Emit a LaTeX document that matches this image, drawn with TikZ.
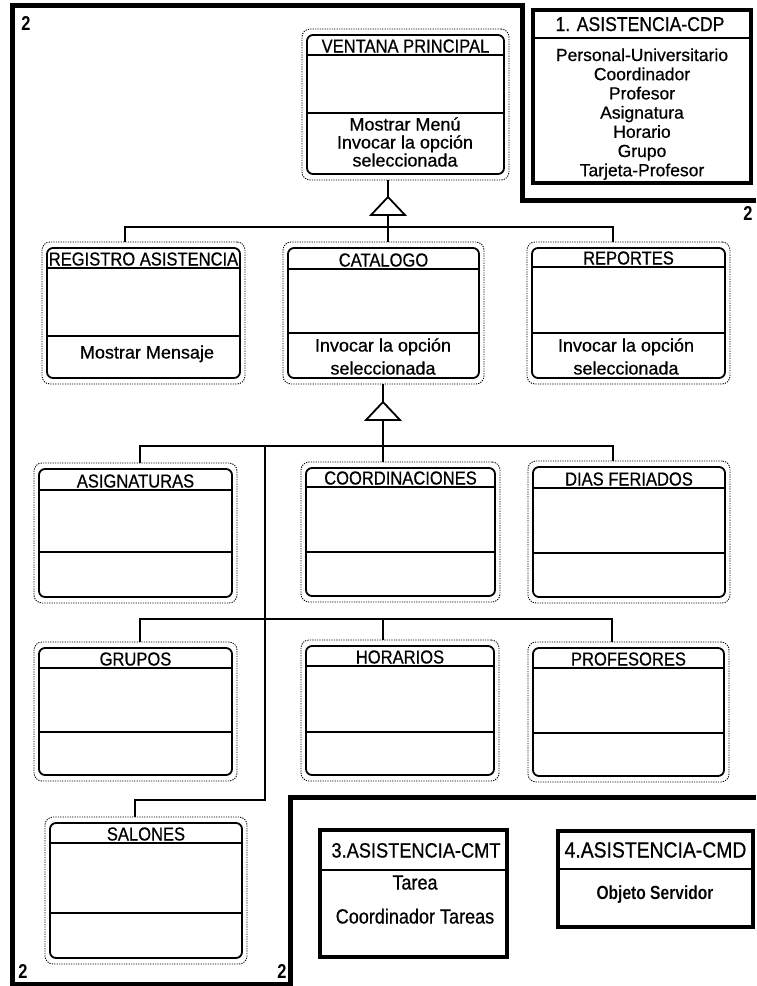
\documentclass[tikz,border=0pt]{standalone}
\usepackage{fontspec}
\setmainfont{Liberation Sans}[FakeBold=0.6]
\newfontfamily\narrowsans[FakeStretch=0.88, FakeBold=0.6]{Liberation Sans}
\newfontfamily\narrowbold[FakeStretch=0.82]{Liberation Sans Bold}
\usetikzlibrary{fit}

% One class: dotted outer outline, solid rounded box with three compartments, title
% #1 name, #2 left, #3 top, #4 right, #5 bottom, #6 title rule, #7 operations rule, #8 title
\newcommand\umlclass[8]{%
  \node[outerbox, fit={(#2-5,#3-6) (#4+5,#5+6)}] (#1) {};
  \draw[innerbox] (#2,#3) rectangle (#4,#5);
  \draw[sepline] (#2,#6) -- (#4,#6) (#2,#7) -- (#4,#7);
  \node[hdr, anchor=base] (#1-title) at ({(#2+#4)/2},#6-2.5) {#8};
}

\begin{document}
\begin{tikzpicture}[x=1pt,y=-1pt,
  frame/.style={line width=5pt, line join=miter},
  outerbox/.style={draw, line width=0.9pt, dash pattern=on 1.2pt off 1.2pt,
                   rounded corners=8pt, inner sep=0pt, outer sep=0pt},
  innerbox/.style={draw, line width=1.8pt, rounded corners=6pt},
  sepline/.style={line width=1.4pt},
  hdr/.style={font=\narrowsans\fontsize{18.8}{18.8}\selectfont, inner sep=0pt},
  body/.style={font=\fontsize{18}{18}\selectfont, inner sep=0pt, anchor=base},
  conn/.style={line width=1.5pt},
  tri/.style={line width=1.8pt, fill=white, line join=miter},
  pkgbox/.style={draw, line width=4.5pt, inner sep=0pt, outer sep=0pt},
  pkgsep/.style={line width=1.5pt},
  pkghdr/.style={font=\narrowsans\fontsize{20}{20}\selectfont, inner sep=0pt, anchor=base},
  pkgtxt/.style={font=\fontsize{17.5}{17.5}\selectfont, inner sep=0pt, anchor=base},
  pkgtxtn/.style={font=\narrowsans\fontsize{20.5}{20.5}\selectfont, inner sep=0pt, anchor=base},
  num/.style={font=\narrowbold\fontsize{20}{20}\selectfont, inner sep=0pt, anchor=base}
]
\useasboundingbox[fill=white] (0,0) rectangle (756,986);

% subject 2 boundary
\draw[frame] (756,200) -- (522,200) -- (522,5) -- (12,5) -- (12,984)
  -- (290,984) -- (290,797) -- (756,797);
\node[num] (n2a) at (26,30) {2};
\node[num] (n2b) at (748,220) {2};
\node[num] (n2c) at (23,978) {2};
\node[num] (n2d) at (282,978) {2};

% subject 1
\node[pkgbox, fit={(533,10) (751,183)}] (cdp) {};
\draw[pkgsep] (533,38) -- (751,38);
\node[pkghdr] (cdp-title) at (640,31) {1. ASISTENCIA-CDP};
\foreach \t [count=\i from 0] in {Personal-Universitario, Coordinador, Profesor,
    Asignatura, Horario, Grupo, Tarjeta-Profesor}
  \node[pkgtxt] (cdp-\i) at (642,{61+19.2*\i}) {\t};

% subject 3
\node[pkgbox, fit={(320,830) (507,957)}] (cmt) {};
\draw[pkgsep] (320,870) -- (507,870);
\node[pkghdr, font=\narrowsans\fontsize{20.7}{20.7}\selectfont] (cmt-title) at (416,857.5) {3.ASISTENCIA-CMT};
\node[pkgtxtn] (cmt-0) at (415,889.5) {Tarea};
\node[pkgtxtn] (cmt-1) at (415,923.5) {Coordinador Tareas};

% subject 4
\node[pkgbox, fit={(558,831) (753,927)}] (cmd) {};
\draw[pkgsep] (558,869) -- (753,869);
\node[pkghdr, font=\narrowsans\fontsize{22}{22}\selectfont] (cmd-title) at (655.5,857.5) {4.ASISTENCIA-CMD};
\node[pkgtxtn, font=\narrowbold\fontsize{19}{19}\selectfont] (cmd-0) at (655,899) {Objeto Servidor};

% classes
\umlclass{ventana}{307}{35}{504}{174}{55}{113}{VENTANA PRINCIPAL}
\node[body] (ventana-op1) at (405,130.5) {Mostrar Menú};
\node[body] (ventana-op2) at (405,148.5) {Invocar la opción};
\node[body] (ventana-op3) at (405,166.5) {seleccionada};

\umlclass{registro}{47}{248}{240}{378}{268}{336}{REGISTRO ASISTENCIA}
\node[body] (registro-op1) at (147,358.5) {Mostrar Mensaje};

\umlclass{catalogo}{288}{248}{479}{378}{269}{333}{CATALOGO}
\node[body] (catalogo-op1) at (383,351.5) {Invocar la opción};
\node[body] (catalogo-op2) at (383,374.5) {seleccionada};

\umlclass{reportes}{532}{248}{725}{378}{267}{333}{REPORTES}
\node[body] (reportes-op1) at (626,351.5) {Invocar la opción};
\node[body] (reportes-op2) at (626,374.5) {seleccionada};

\umlclass{asignaturas}{39}{469}{232}{597}{490}{552}{ASIGNATURAS}
\umlclass{coordinaciones}{306}{468}{495}{596}{487}{552}{COORDINACIONES}
\umlclass{diasferiados}{533}{467}{725}{597}{488}{553}{DIAS FERIADOS}
\umlclass{grupos}{39}{648}{232}{775}{668}{732}{GRUPOS}
\umlclass{horarios}{306}{646}{494}{775}{666}{732}{HORARIOS}
\umlclass{profesores}{533}{648}{724}{776}{668}{733}{PROFESORES}
\umlclass{salones}{50}{823}{242}{958}{843}{913}{SALONES}

% generalization: VENTANA PRINCIPAL
\coordinate (t1) at (388,197);
\coordinate (t1b) at (388,215);
\coordinate (busR-l) at (125,227);
\coordinate (busR-r) at (613,227);
\draw[conn] (ventana.south -| t1) -- (t1);
\draw[conn] (t1b) -- (catalogo.north -| t1b);
\draw[conn] (registro.north -| busR-l) -- (busR-l) -- (busR-r) -- (reportes.north -| busR-r);
\draw[tri] (t1) -- ++(-17,18) -- ++(34,0) -- cycle;

% generalization: CATALOGO
\coordinate (t2) at (383,402);
\coordinate (t2b) at (383,420);
\coordinate (busA-l) at (140,446);
\coordinate (busA-r) at (613,446);
\coordinate (busA-m) at (265,446);
\coordinate (busB-l) at (140,619);
\coordinate (busB-r) at (612,619);
\coordinate (elbow-r) at (265,800);
\coordinate (elbow-l) at (135,800);
\draw[conn] (catalogo.south -| t2) -- (t2);
\draw[conn] (t2b) -- (coordinaciones.north -| t2b);
\draw[conn] (asignaturas.north -| busA-l) -- (busA-l) -- (busA-r) -- (diasferiados.north -| busA-r);
\draw[conn] (grupos.north -| busB-l) -- (busB-l) -- (busB-r) -- (profesores.north -| busB-r);
\draw[conn] (horarios.north -| t2b) -- (t2b |- busB-l);
\draw[conn] (busA-m) -- (elbow-r) -- (elbow-l) -- (salones.north -| elbow-l);
\draw[tri] (t2) -- ++(-17,18) -- ++(34,0) -- cycle;
\end{tikzpicture}
\end{document}
